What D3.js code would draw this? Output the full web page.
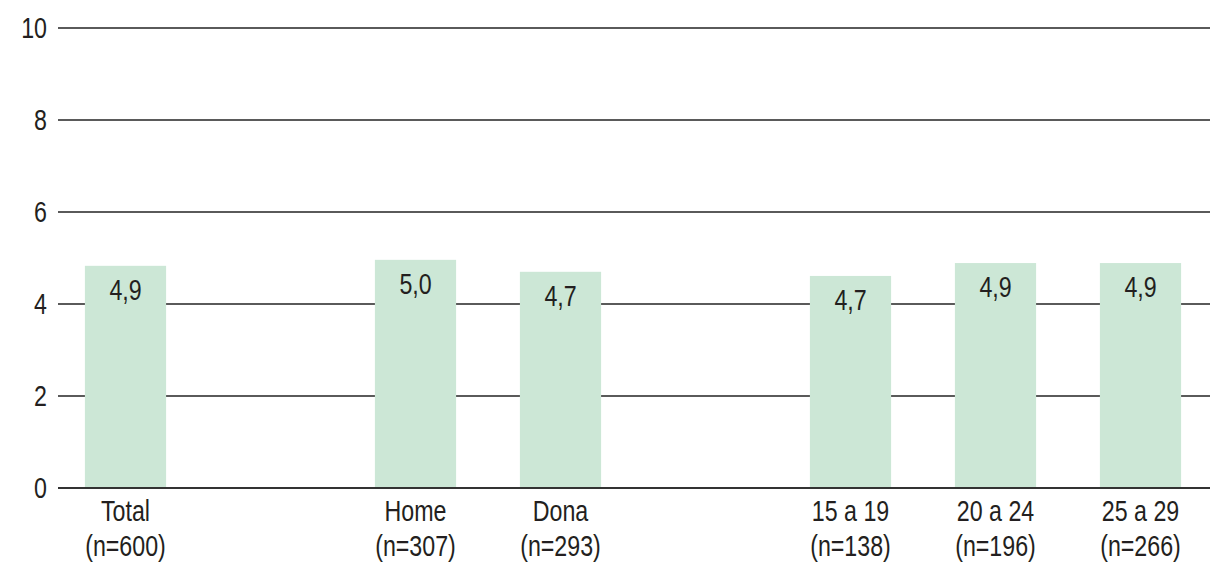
<!DOCTYPE html>
<html>
<head>
<meta charset="utf-8">
<script src="https://cdn.jsdelivr.net/npm/d3@7"></script>
<style>
  body { margin: 0; background: #fff; }
  text { font-family: "Liberation Sans", Arial, sans-serif; fill: #231f20; }
</style>
</head>
<body>
<div id="chart"></div>
<script>
const width = 1210,
    height = 563;

// slots: the gap entries are empty spaces between groups
const slots = ["Total", "gap1", "Home", "Dona", "gap2", "15 a 19", "20 a 24", "25 a 29"];
const categories = ["Total", "Home", "Dona", "15 a 19", "20 a 24", "25 a 29"];
const sampleSizes = ["(n=600)", "(n=307)", "(n=293)", "(n=138)", "(n=196)", "(n=266)"];
const values = [4.83, 4.96, 4.70, 4.61, 4.89, 4.89];
const valueLabels = ["4,9", "5,0", "4,7", "4,7", "4,9", "4,9"];
const yTicks = [0, 2, 4, 6, 8, 10];

const data = categories.map((c, i) => ({ cat: c, n: sampleSizes[i], value: values[i], label: valueLabels[i] }));

const fontSize = "29px";
const squeeze = 0.8; // fake a narrow typeface

const svg = d3.select("#chart")
    .append("svg")
    .attr("width", width)
    .attr("height", height);

const x = d3.scaleBand()
    .domain(slots)
    .range([53, 1213])
    .paddingInner(0.44)
    .paddingOuter(0.22);

const y = d3.scaleLinear()
    .domain([0, 10])
    .range([488, 28]);

const cx = d => x(d.cat) + x.bandwidth() / 2;

// gridlines
svg.selectAll(".grid")
    .data(yTicks)
    .join("line")
    .attr("class", "grid")
    .attr("x1", 58)
    .attr("x2", width)
    .attr("y1", d => y(d))
    .attr("y2", d => y(d))
    .attr("stroke", d => d === 0 ? "#333" : "#5a5a5a")
    .attr("stroke-width", 2);

// tick labels
svg.selectAll(".ytick")
    .data(yTicks)
    .join("text")
    .attr("class", "ytick")
    .attr("transform", d => `translate(47,${y(d)}) scale(${squeeze},1)`)
    .attr("dy", "0.36em")
    .attr("text-anchor", "end")
    .style("font-size", fontSize)
    .text(d => d);

// bars
svg.selectAll(".bar")
    .data(data)
    .join("rect")
    .attr("class", "bar")
    .attr("x", d => x(d.cat))
    .attr("width", x.bandwidth())
    .attr("y", d => y(d.value))
    .attr("height", d => y(0) - y(d.value) - 1)
    .attr("fill", "#cce7d6");

// value labels
svg.selectAll(".vlabel")
    .data(data)
    .join("text")
    .attr("class", "vlabel")
    .attr("transform", d => `translate(${cx(d)},${y(d.value) + 34}) scale(${squeeze},1)`)
    .attr("text-anchor", "middle")
    .style("font-size", fontSize)
    .text(d => d.label);

// category labels
const xl = svg.selectAll(".xlabel")
    .data(data)
    .join("text")
    .attr("class", "xlabel")
    .attr("transform", d => `translate(${cx(d)},0) scale(${squeeze},1)`)
    .attr("text-anchor", "middle")
    .style("font-size", fontSize);

xl.append("tspan")
    .attr("x", 0)
    .attr("y", 521)
    .text(d => d.cat);

xl.append("tspan")
    .attr("x", 0)
    .attr("y", 556)
    .text(d => d.n);
</script>
</body>
</html>
